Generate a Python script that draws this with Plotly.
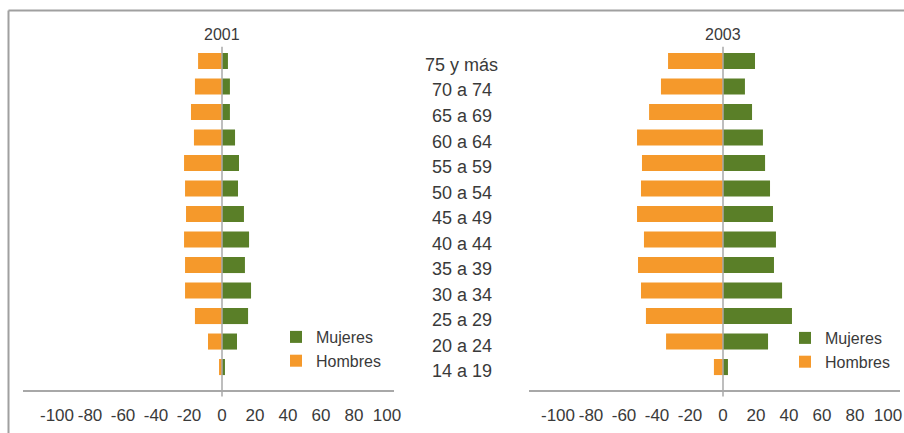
import plotly.graph_objects as go

# Age groups, listed top to bottom as in the picture
categories = ["75 y más", "70 a 74", "65 a 69", "60 a 64", "55 a 59", "50 a 54",
              "45 a 49", "40 a 44", "35 a 39", "30 a 34", "25 a 29", "20 a 24", "14 a 19"]

# 2001 panel (hombres drawn as negative values)
hombres_2001 = [-14.5, -16.4, -18.8, -17.0, -23.0, -22.4, -21.8, -23.0, -22.4, -22.4, -16.4, -8.5, -1.8]
mujeres_2001 = [3.6, 4.8, 4.8, 7.9, 10.3, 9.7, 13.3, 16.4, 13.9, 17.6, 15.8, 9.1, 1.8]

# 2003 panel
hombres_2003 = [-33.3, -37.6, -44.8, -52.1, -49.1, -49.7, -52.1, -47.9, -51.5, -49.7, -46.7, -34.5, -5.5]
mujeres_2003 = [19.4, 13.3, 17.6, 24.2, 25.5, 28.5, 30.3, 32.1, 30.9, 35.8, 41.8, 27.3, 3.0]

tick_values = [-100, -80, -60, -40, -20, 0, 20, 40, 60, 80, 100]
panel_titles = ["2001", "2003"]

GREEN = "#5A7F28"
ORANGE = "#F5992B"
TEXT = "#3A3A3A"
LINE = "#A8A8A8"
FONT = "Liberation Sans, Arial, sans-serif"

W, H = 904, 433

def px_x(p):
    return p / W

def px_y(p):
    return (H - p) / H

fig = go.Figure()

fig.add_trace(go.Bar(y=categories, x=mujeres_2001, orientation="h", name="Mujeres",
                     marker=dict(color=GREEN, line=dict(width=0)), xaxis="x", yaxis="y",
                     legend="legend", hoverinfo="x+y"))
fig.add_trace(go.Bar(y=categories, x=hombres_2001, orientation="h", name="Hombres",
                     marker=dict(color=ORANGE, line=dict(width=0)), xaxis="x", yaxis="y",
                     legend="legend", hoverinfo="x+y"))
fig.add_trace(go.Bar(y=categories, x=mujeres_2003, orientation="h", name="Mujeres",
                     marker=dict(color=GREEN, line=dict(width=0)), xaxis="x2", yaxis="y2",
                     legend="legend2", hoverinfo="x+y"))
fig.add_trace(go.Bar(y=categories, x=hombres_2003, orientation="h", name="Hombres",
                     marker=dict(color=ORANGE, line=dict(width=0)), xaxis="x2", yaxis="y2",
                     legend="legend2", hoverinfo="x+y"))

scale = 1.65  # px per unit
ydom = [px_y(390), px_y(46.7)]
cat_bottom_up = list(reversed(categories))
yrange = [-0.9, len(categories) - 1 + 0.56]

def xaxis_cfg(x0, zero, x1):
    return dict(
        domain=[px_x(x0), px_x(x1)],
        range=[-(zero - x0) / scale, (x1 - zero) / scale],
        tickvals=tick_values,
        ticktext=[str(v) for v in tick_values],
        showgrid=False, zeroline=False,
        showline=True, linecolor=LINE, linewidth=1.5,
        ticks="", ticklabelstandoff=9, tickangle=0,
        tickfont=dict(size=17, color=TEXT, family=FONT),
        fixedrange=True,
    )

def yaxis_cfg(anchor):
    return dict(
        domain=ydom, anchor=anchor,
        type="category", categoryorder="array", categoryarray=cat_bottom_up,
        range=yrange, visible=False, showgrid=False, zeroline=False, fixedrange=True,
    )

fig.update_layout(
    width=W, height=H,
    margin=dict(l=0, r=0, t=0, b=0, autoexpand=False),
    paper_bgcolor="white", plot_bgcolor="white",
    barmode="overlay", bargap=0.37,
    font=dict(family=FONT, color=TEXT),
    xaxis=xaxis_cfg(23, 222, 394) | dict(anchor="y"),
    yaxis=yaxis_cfg("x"),
    xaxis2=xaxis_cfg(529, 723, 900) | dict(anchor="y2"),
    yaxis2=yaxis_cfg("x2"),
    legend=dict(x=px_x(276), y=px_y(320), xanchor="left", yanchor="top",
                font=dict(size=16, color=TEXT, family=FONT), bgcolor="rgba(0,0,0,0)",
                tracegroupgap=0, itemsizing="constant"),
    legend2=dict(x=px_x(785), y=px_y(321), xanchor="left", yanchor="top",
                 font=dict(size=16, color=TEXT, family=FONT), bgcolor="rgba(0,0,0,0)",
                 tracegroupgap=0, itemsizing="constant"),
    showlegend=True,
)

shapes = []
# frame lines (top and left)
shapes.append(dict(type="line", xref="paper", yref="paper", x0=px_x(8.5), x1=1.0,
                   y0=px_y(10.5), y1=px_y(10.5), line=dict(color="#A0A0A0", width=2)))
shapes.append(dict(type="line", xref="paper", yref="paper", x0=px_x(8.5), x1=px_x(8.5),
                   y0=px_y(10.5), y1=0, line=dict(color="#A0A0A0", width=2)))
# zero lines extending slightly below each axis
for xr in ["x", "x2"]:
    shapes.append(dict(type="line", xref=xr, yref="paper", x0=0, x1=0,
                       y0=px_y(396.5), y1=px_y(46.7), line=dict(color=LINE, width=1.5),
                       layer="above"))
fig.update_layout(shapes=shapes)

annotations = []
for xr, title in zip(["x", "x2"], panel_titles):
    annotations.append(dict(text=title, xref=xr, yref="paper", x=0, y=px_y(35),
                            showarrow=False, xanchor="center", yanchor="middle",
                            font=dict(size=16, color=TEXT, family=FONT)))
for c in categories:
    annotations.append(dict(text=c, xref="paper", yref="y", x=px_x(462), y=c,
                            yshift=-4, showarrow=False, xanchor="center", yanchor="middle",
                            font=dict(size=18, color=TEXT, family=FONT)))
fig.update_layout(annotations=annotations)

fig.write_html("out.html", post_script="document.body.style.margin='0';",
               config={"displayModeBar": False})
